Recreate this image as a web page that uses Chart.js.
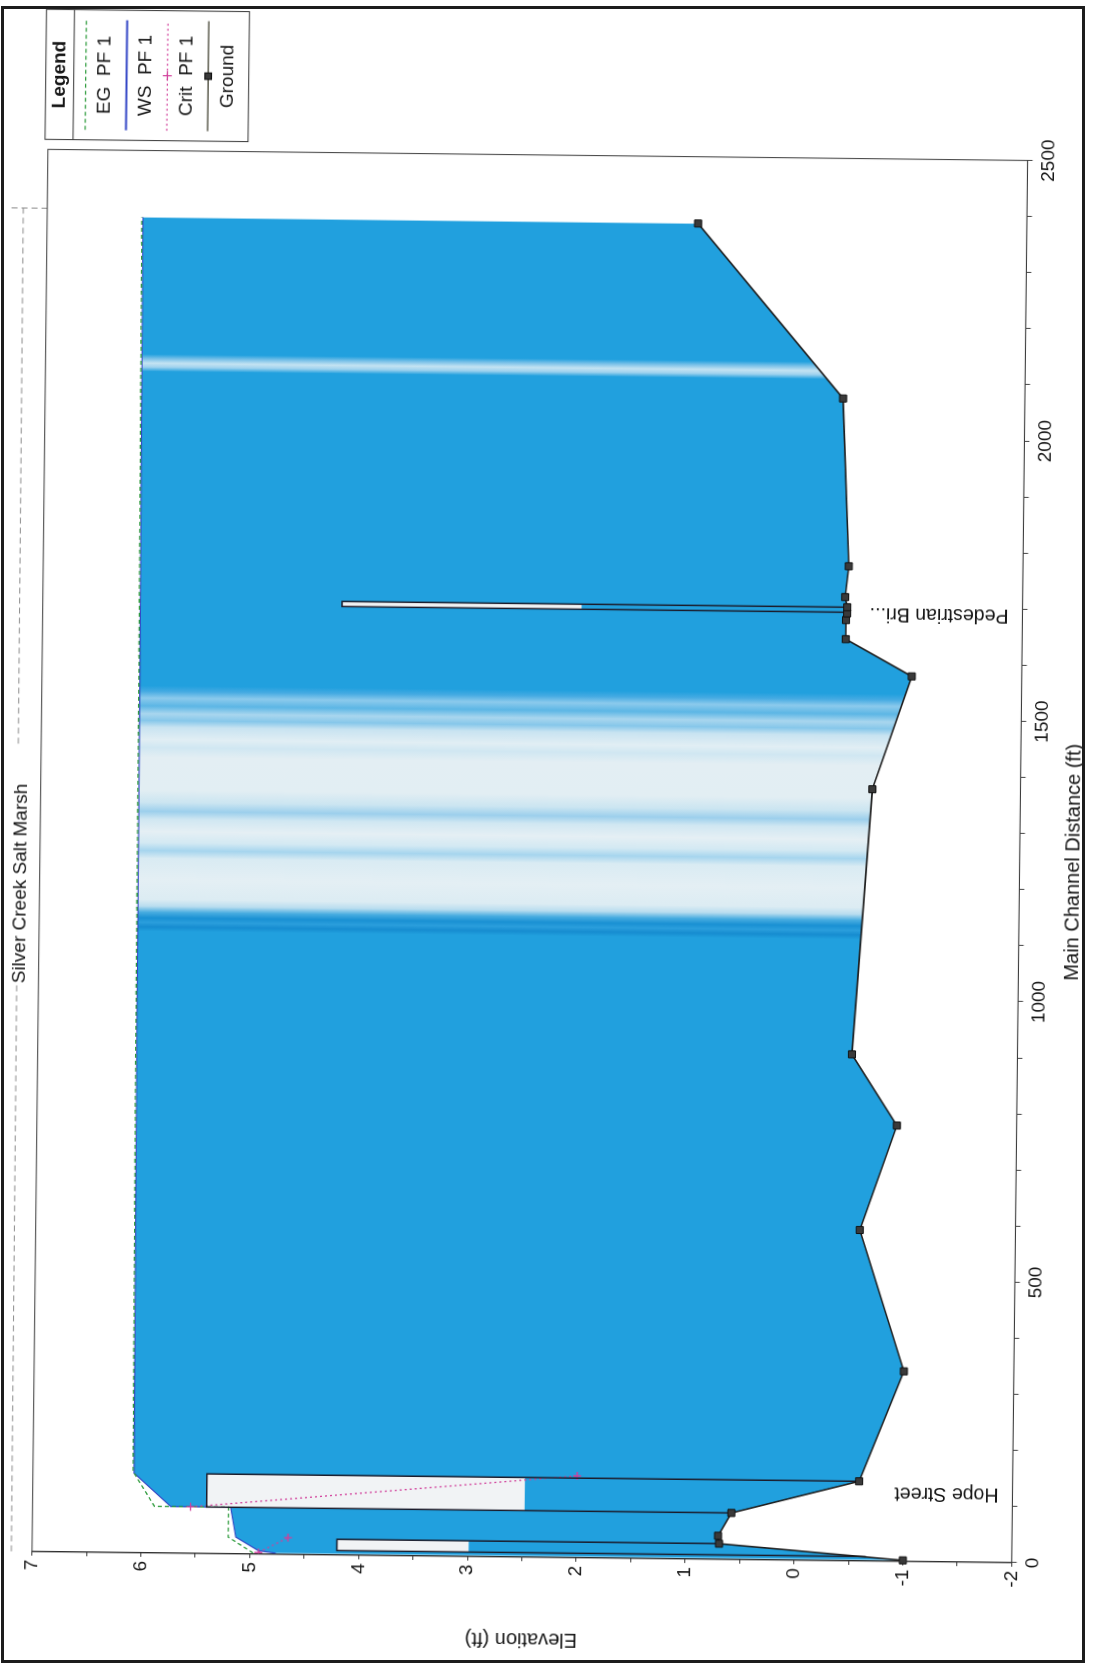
<!DOCTYPE html>
<html>
<head>
<meta charset="utf-8">
<title>Silver Creek Salt Marsh</title>
<script src="https://cdn.jsdelivr.net/npm/chart.js@4.4.0/dist/chart.umd.min.js"></script>
<style>
  html, body { margin: 0; padding: 0; background: #fff; }
  body { width: 1096px; height: 1669px; position: relative; overflow: hidden; }
  /* the printed sheet frame */
  #sheet { position: absolute; left: 1px; top: 6px; width: 1084px; height: 1657px;
           border: 3px solid #1c1c1c; box-sizing: border-box; pointer-events: none; }
  /* the plot is laid out landscape and turned onto the portrait page */
  #plot { position: absolute; left: -286.5px; top: 286.5px; width: 1669px; height: 1096px;
          transform: rotate(-89.35deg); }
</style>
</head>
<body>
<div id="plot"><canvas id="profileChart"></canvas></div>
<div id="sheet"></div>
<script>
// HEC-RAS style water surface profile, Silver Creek Salt Marsh

Chart.defaults.font.family = "'Liberation Sans', Arial, Helvetica, sans-serif";
Chart.defaults.color = '#161616';
const FONT = Chart.defaults.font.family;

// ============================================================
// Data (main channel distance ft / elevation ft)
// ============================================================
const groundStation = [2, 28, 42, 83, 142, 339, 590, 777, 903, 1376, 1578, 1643, 1677, 1689, 1700, 1718, 1773, 2072, 2381];
const groundElev    = [-1.00, 0.69, 0.70, 0.58, -0.59, -0.99, -0.57, -0.90, -0.48, -0.64, -0.99, -0.38, -0.38, -0.39, -0.39, -0.37, -0.40, -0.33, 1.02];

const wsStation = [2, 6, 30, 83, 83, 142, 903, 1578, 2381];
const wsElev    = [4.76, 4.92, 5.13, 5.18, 5.73, 6.07, 6.09, 6.10, 6.12];

const egStation = [2, 30, 83, 83, 145, 903, 1578, 2381];
const egElev    = [4.97, 5.20, 5.20, 5.88, 6.08, 6.10, 6.11, 6.13];

// null breaks the line between the two stretches
const critStation = [3, 30, 30, 83, 146];
const critElev    = [4.92, 4.65, null, 5.55, 2.00];

// bridges: downstream / upstream face, chords and ground at the faces
const bridgeDown       = [8, 83, 1691];
const bridgeUp         = [28, 142, 1700];
const bridgeLowChord   = [2.99, 2.48, 2.05];
const bridgeHighChord  = [4.20, 5.40, 4.25];
const bridgeDownGround = [-0.66, 0.58, -0.39];
const bridgeUpGround   = [0.69, -0.59, -0.39];
const bridgeLabel        = ['', 'Hope Street', 'Pedestrian Bri...'];
const bridgeLabelStation = [null, 123, 1690];

// faint dashed guide printed above the plot frame (broken where the title sits)
const guideStation = [0, 1010, 1010, 1440, 2395, 2395, 2395, 2395];
const guideElev    = [7.19, 7.20, null, 7.21, 7.22, null, 7.42, 7.00];

const distanceLabels  = [0, 500, 1000, 1500, 2000, 2500];
const elevationLabels = [-2, -1, 0, 1, 2, 3, 4, 5, 6, 7];

// ============================================================
// Styles
// ============================================================
const WATER = '#21a0de';
// light scan bands across the water fill (distance ft, colour)
const waterBands = [
    [0, WATER], [1108, WATER], [1116, '#168cd0'], [1124, '#2a9edc'], [1132, '#1990d3'], [1142, '#47ace0'],
    [1153, '#b9ddef'], [1165, '#dcecf3'], [1200, '#e4eff4'], [1238, '#d9ebf3'], [1252, '#a6d5ee'],
    [1266, '#d3e9f3'], [1286, '#e5eff4'], [1308, '#d0e7f2'], [1322, '#9ccfec'], [1338, '#cbe5f1'],
    [1360, '#e2eef3'], [1418, '#e3eef3'], [1436, '#d0e7f2'], [1450, '#e1eef4'], [1472, '#c8e3f1'],
    [1484, '#86c7ea'], [1496, '#a9d6ee'], [1510, '#5cb6e5'], [1524, '#8ccaec'], [1536, '#44aae2'],
    [1546, WATER], [2106, WATER], [2114, '#9fd2ee'], [2121, '#c4e3f2'], [2129, '#7ac1e8'], [2137, WATER], [2500, WATER]
];

const pts = (xs, ys) => xs.map((x, i) => ({ x: x, y: ys[i] }));

function waterFill(context) {
    const chart = context.chart;
    const { ctx, chartArea, scales } = chart;
    if (!chartArea) return WATER;
    const x0 = scales.x.getPixelForValue(0);
    const x1 = scales.x.getPixelForValue(2500);
    const g = ctx.createLinearGradient(x0, 0, x1, 0);
    waterBands.forEach(([d, c]) => g.addColorStop(d / 2500, c));
    return g;
}

// ============================================================
// Datasets
// ============================================================
const datasets = [
    {
        label: 'WS  PF 1', data: pts(wsStation, wsElev),
        borderColor: '#3346c6', borderWidth: 1.2, pointRadius: 0,
        backgroundColor: waterFill, fill: { target: 3 }, order: 6
    },
    {
        label: 'EG  PF 1', data: pts(egStation, egElev),
        borderColor: '#2e9b3c', borderDash: [4, 3], borderWidth: 1.3, pointRadius: 0, order: 3
    },
    {
        label: 'Crit  PF 1', data: pts(critStation, critElev),
        borderColor: '#d1409b', borderDash: [2, 3], borderWidth: 1.3,
        pointStyle: 'cross', pointRadius: 4, pointBorderColor: '#d1409b', pointBorderWidth: 1.3,
        spanGaps: false, order: 2
    },
    {
        label: 'Ground', data: pts(groundStation, groundElev),
        borderColor: '#1e1e1e', borderWidth: 1.6,
        pointStyle: 'rect', pointRadius: 5, pointBackgroundColor: '#3a3a3a',
        pointBorderColor: '#111', pointBorderWidth: 1, clip: 8, order: 0
    }
];

bridgeDown.forEach((d, i) => {
    // deck between low and high chord
    datasets.push({
        label: 'deck', data: pts([d, bridgeUp[i]], [bridgeHighChord[i], bridgeHighChord[i]]),
        borderWidth: 0, pointRadius: 0, backgroundColor: '#f1f3f5',
        fill: { value: bridgeLowChord[i] }, order: 5
    });
    // upstream / downstream faces and road top
    datasets.push({
        label: 'bridge', data: pts([d, d, bridgeUp[i], bridgeUp[i]],
            [bridgeDownGround[i], bridgeHighChord[i], bridgeHighChord[i], bridgeUpGround[i]]),
        borderColor: '#1b1b2a', borderWidth: 1.5, pointRadius: 0, order: 1
    });
});

datasets.push({
    label: 'guide', data: pts(guideStation, guideElev),
    borderColor: '#8a8a8a', borderDash: [6, 4], borderWidth: 1, pointRadius: 0,
    spanGaps: false, clip: false, order: 4
});

// ============================================================
// Frame, legend box and bridge names
// ============================================================
const profileDecor = {
    id: 'profileDecor',
    afterDraw(chart) {
        const { ctx, chartArea, scales } = chart;
        ctx.save();

        // plot frame
        ctx.strokeStyle = '#3a3a3a';
        ctx.lineWidth = 1;
        ctx.strokeRect(chartArea.left, chartArea.top, chartArea.right - chartArea.left, chartArea.bottom - chartArea.top);

        // bridge names, written up from the bottom of the plot
        ctx.fillStyle = '#161616';
        ctx.font = '19.5px ' + FONT;
        ctx.textAlign = 'left';
        ctx.textBaseline = 'middle';
        bridgeLabel.forEach((name, i) => {
            if (!name) return;
            ctx.save();
            ctx.translate(scales.x.getPixelForValue(bridgeLabelStation[i]), chartArea.bottom - 14);
            ctx.rotate(-Math.PI / 2);
            ctx.fillText(name, 0, 0);
            ctx.restore();
        });

        // legend box
        const left = chartArea.right + 10, top = chartArea.top - 3, w = 130, h = 203;
        ctx.strokeStyle = '#333';
        ctx.lineWidth = 1;
        ctx.strokeRect(left, top, w, h);
        ctx.beginPath();
        ctx.moveTo(left, top + 28);
        ctx.lineTo(left + w, top + 28);
        ctx.stroke();

        ctx.textAlign = 'center';
        ctx.font = 'bold 19px ' + FONT;
        ctx.fillText('Legend', left + w / 2, top + 14);

        ctx.font = '19px ' + FONT;
        const items = ['EG  PF 1', 'WS  PF 1', 'Crit  PF 1', 'Ground']
            .map(l => chart.data.datasets.find(ds => ds.label === l));
        items.forEach((ds, i) => {
            const ly = top + 40 + i * 40.8;
            ctx.save();
            ctx.strokeStyle = ds.label === 'Ground' ? '#3b3b2a' : ds.borderColor;
            ctx.lineWidth = ds.label === 'WS  PF 1' ? 2 : 1.3;
            ctx.setLineDash(ds.borderDash || []);
            ctx.beginPath();
            ctx.moveTo(left + 10, ly);
            ctx.lineTo(left + w - 10, ly);
            ctx.stroke();
            ctx.setLineDash([]);
            if (ds.pointStyle) {
                ctx.fillStyle = ds.pointBackgroundColor || ds.pointBorderColor;
                ctx.strokeStyle = ds.pointBorderColor;
                ctx.lineWidth = 1.2;
                Chart.helpers.drawPoint(ctx, { pointStyle: ds.pointStyle, radius: 4.5, borderWidth: 1.2, rotation: 0 }, left + w / 2, ly);
            }
            ctx.restore();
            ctx.fillText(ds.label, left + w / 2, ly + 19.5);
        });
        ctx.restore();
    }
};

// ============================================================
// Chart
// ============================================================
new Chart(document.getElementById('profileChart'), {
    type: 'line',
    data: { datasets: datasets },
    plugins: [profileDecor],
    options: {
        responsive: true,
        maintainAspectRatio: false,
        animation: false,
        events: [],
        layout: { padding: { left: 45.6, right: 154.6, top: 0, bottom: 0 } },
        plugins: {
            legend: { display: false },
            tooltip: { enabled: false },
            title: {
                display: true,
                text: 'Silver Creek Salt Marsh',
                color: '#161616',
                font: { size: 19, weight: 'normal' },
                padding: { top: 9.1, bottom: 7.8 }
            }
        },
        scales: {
            x: {
                type: 'linear', min: 0, max: 2500,
                ticks: {
                    stepSize: 100, autoSkip: false, maxRotation: 0, minRotation: 0,
                    padding: 5, font: { size: 19 }, color: '#161616',
                    callback: v => distanceLabels.includes(v) ? String(v) : ''
                },
                grid: { drawOnChartArea: false, drawTicks: true, tickLength: 5, tickColor: '#444' },
                border: { display: true, color: '#555' },
                title: { display: true, text: 'Main Channel Distance (ft)', font: { size: 20 }, padding: { top: 0, bottom: 11 } },
                afterFit: scale => { scale.height = 76.6; }
            },
            y: {
                type: 'linear', min: -2, max: 7,
                ticks: {
                    stepSize: 0.5, autoSkip: false,
                    padding: 4, font: { size: 19 }, color: '#161616',
                    callback: v => elevationLabels.includes(v) ? String(v) : ''
                },
                grid: { drawOnChartArea: false, drawTicks: true, tickLength: 4, tickColor: '#333' },
                border: { display: true, color: '#222' },
                title: { display: true, text: 'Elevation (ft)', font: { size: 20 }, padding: { top: -27.6, bottom: 0 } },
                afterFit: scale => { scale.width = 66.5; }
            }
        }
    }
});
</script>
</body>
</html>
